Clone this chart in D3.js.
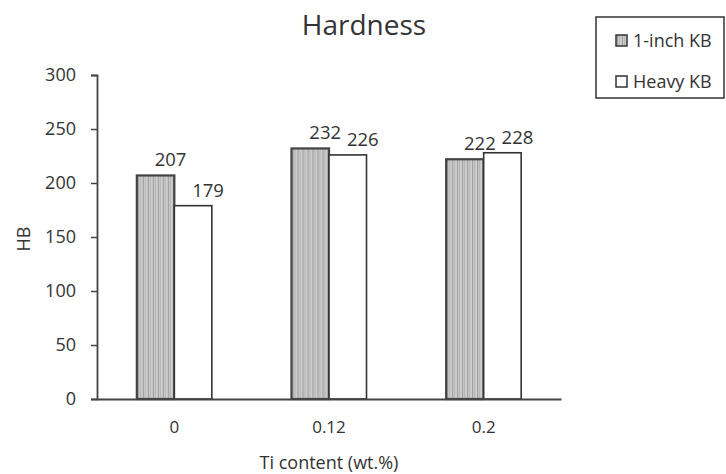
<!DOCTYPE html>
<html><head><meta charset="utf-8">
<script src="https://cdn.jsdelivr.net/npm/d3@7"></script>
<style>body{margin:0;background:#fff}svg text{font-family:"Open Sans",sans-serif;fill:#333}</style>
</head><body><svg id="c" width="726" height="474"></svg>
<script>
const categories = ["0", "0.12", "0.2"];
const seriesNames = ["1-inch KB", "Heavy KB"];
const inchKB = [207, 232, 222];
const heavyKB = [179, 226, 228];
const yTicks = [0, 50, 100, 150, 200, 250, 300];

const svg = d3.select("#c");
const defs = svg.append("defs");
const pat = defs.append("pattern").attr("id","stripe").attr("patternUnits","userSpaceOnUse")
  .attr("width",5).attr("height",10);
pat.append("rect").attr("width",5).attr("height",10).attr("fill","#cdcdcd");
pat.append("rect").attr("x",1).attr("width",1).attr("height",10).attr("fill","#999");
pat.append("rect").attr("x",3).attr("width",1).attr("height",10).attr("fill","#b3b3b3");

const x0 = d3.scaleBand().domain(categories).range([97,561]).paddingInner(0.515).paddingOuter(0.2575);
const x1 = d3.scaleBand().domain(seriesNames).range([0,x0.bandwidth()]);
const y = d3.scaleLinear().domain([0,300]).range([399,75]);

const data = categories.map((c,i)=>({cat:c, vals:[{s:seriesNames[0],v:inchKB[i]},{s:seriesNames[1],v:heavyKB[i]}]}));

const g = svg.append("g");
const groups = g.selectAll("g.cat").data(data).join("g").attr("transform",d=>`translate(${x0(d.cat)},0)`);
groups.selectAll("rect").data(d=>d.vals).join("rect")
  .attr("x",d=>x1(d.s)).attr("y",d=>y(d.v)).attr("width",x1.bandwidth()).attr("height",d=>y(0)-y(d.v))
  .attr("fill",d=>d.s===seriesNames[0]?"url(#stripe)":"#fff")
  .attr("stroke",d=>d.s===seriesNames[0]?"#444":"#333").attr("stroke-width",d=>d.s===seriesNames[0]?2.2:1.6);
groups.selectAll("text").data(d=>d.vals).join("text")
  .attr("x",d=>x1(d.s)+x1.bandwidth()/2+15).attr("y",d=>y(d.v)-9)
  .attr("text-anchor","middle").attr("font-size",18.5).text(d=>d.v);

// y axis
const ya = svg.append("g").attr("transform","translate(97,0)")
  .call(d3.axisLeft(y).tickValues(yTicks).tickSize(6).tickPadding(15));
ya.select(".domain").attr("stroke","#444").attr("stroke-width",1.8);
ya.selectAll(".tick line").attr("stroke","#444").attr("stroke-width",1.5);
ya.selectAll(".tick text").attr("font-size",18).attr("font-family","Open Sans").attr("fill","#333");

// x axis
const xa = svg.append("g").attr("transform",`translate(0,${y(0)})`)
  .call(d3.axisBottom(x0).tickSize(0).tickPadding(22));
xa.select(".domain").attr("stroke","#444").attr("stroke-width",1.8);
xa.selectAll(".tick text").attr("font-size",17).attr("font-family","Open Sans").attr("fill","#333");

svg.append("text").attr("x",364).attr("y",35).attr("text-anchor","middle").attr("font-size",28).text("Hardness");
svg.append("text").attr("x",329).attr("y",469).attr("text-anchor","middle").attr("font-size",18).text("Ti content (wt.%)");
svg.append("text").attr("transform","translate(30,239) rotate(-90)").attr("text-anchor","middle").attr("font-size",18).text("HB");

// legend
const lg = svg.append("g");
lg.append("rect").attr("x",596).attr("y",17).attr("width",128).attr("height",81).attr("fill","#fff").attr("stroke","#333").attr("stroke-width",1.5);
const li = lg.selectAll("g.li").data(seriesNames).join("g").attr("transform",(d,i)=>`translate(616,${35+i*41})`);
li.append("rect").attr("width",11).attr("height",11).attr("fill",(d,i)=>i===0?"url(#stripe)":"#fff").attr("stroke","#333").attr("stroke-width",1.5);
li.append("text").attr("x",17).attr("y",11.5).attr("font-size",18).text(d=>d);
</script></body></html>
